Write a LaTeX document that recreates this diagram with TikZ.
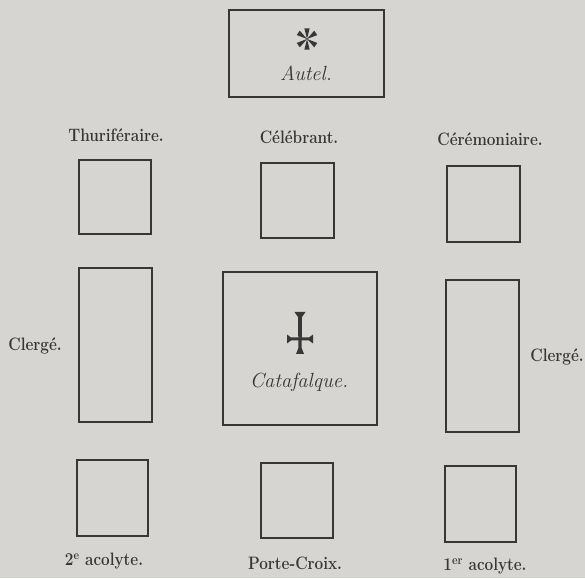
\documentclass[tikz,border=0pt]{standalone}
\definecolor{paper}{RGB}{214,213,210}
\definecolor{ink}{RGB}{55,55,55}
\begin{document}
\begin{tikzpicture}[x=1pt,y=1pt,
  box/.style={draw=ink,line width=1.3pt,inner sep=0pt,minimum width=#1},
  lbl/.style={text=ink,font=\fontsize{18}{20}\selectfont\bfseries,inner sep=0pt,xscale=0.85,transform shape},
  ilbl/.style={text=ink,font=\fontsize{20.5}{22}\selectfont\itshape,inner sep=0pt}]
\fill[paper] (0,0) rectangle (585,578);
\useasboundingbox (0,0) rectangle (585,578);
% boxes
\node[box=155pt,minimum height=87pt] (autel) at (306.5,524.5) {};
\node[box=72pt,minimum height=74pt] (thur) at (115,381) {};
\node[box=73pt,minimum height=75pt] (celeb) at (297.5,377.5) {};
\node[box=73pt,minimum height=76pt] (ceremo) at (483.5,374) {};
\node[box=73pt,minimum height=154pt] (clergeL) at (115.5,233) {};
\node[box=154pt,minimum height=153pt] (cata) at (300,229.5) {};
\node[box=73pt,minimum height=152pt] (clergeR) at (482.5,222) {};
\node[box=71pt,minimum height=76pt] (acol2) at (112.5,80) {};
\node[box=72pt,minimum height=75pt] (porte) at (297,77.5) {};
\node[box=71pt,minimum height=76pt] (acol1) at (480.5,74) {};
% labels
\node[lbl] (tThur) at (116,443) {Thuriféraire.};
\node[lbl] (tCeleb) at (299,441) {Célébrant.};
\node[lbl] (tCeremo) at (490,439) {Cérémoniaire.};
\node[lbl] (tClL) at (35,232) {Clergé.};
\node[lbl] (tClR) at (557,221) {Clergé.};
\node[lbl] (tA2) at (104,17) {2\textsuperscript{e} acolyte.};
\node[lbl] (tPC) at (295,15) {Porte-Croix.};
\node[lbl] (tA1) at (485,12) {1\textsuperscript{er} acolyte.};
\node[ilbl] (tAutel) at (306,505) {Autel.};
\node[ilbl] (tCata) at (299,196) {Catafalque.};
% star on the altar
\begin{scope}[shift={(307,539)}]
  \foreach \a in {90,270,35,145,215,325}
    \fill[ink] (0,0) -- (\a-14:11) -- (\a+14:11) -- cycle;
\end{scope}
% cross on the catafalque
\begin{scope}[shift={(300,239)}]
  \fill[ink] (-5.5,27) -- (5.5,27) -- (2,22) -- (1.6,-9) -- (4,-15) -- (-4,-15) -- (-1.6,-9) -- (-2,22) -- cycle;
  \fill[ink] (-13,4.5) -- (-9,1.5) -- (9,1.5) -- (13,4.5) -- (13,-4.5) -- (9,-1.5) -- (-9,-1.5) -- (-13,-4.5) -- cycle;
\end{scope}
\end{tikzpicture}
\end{document}
